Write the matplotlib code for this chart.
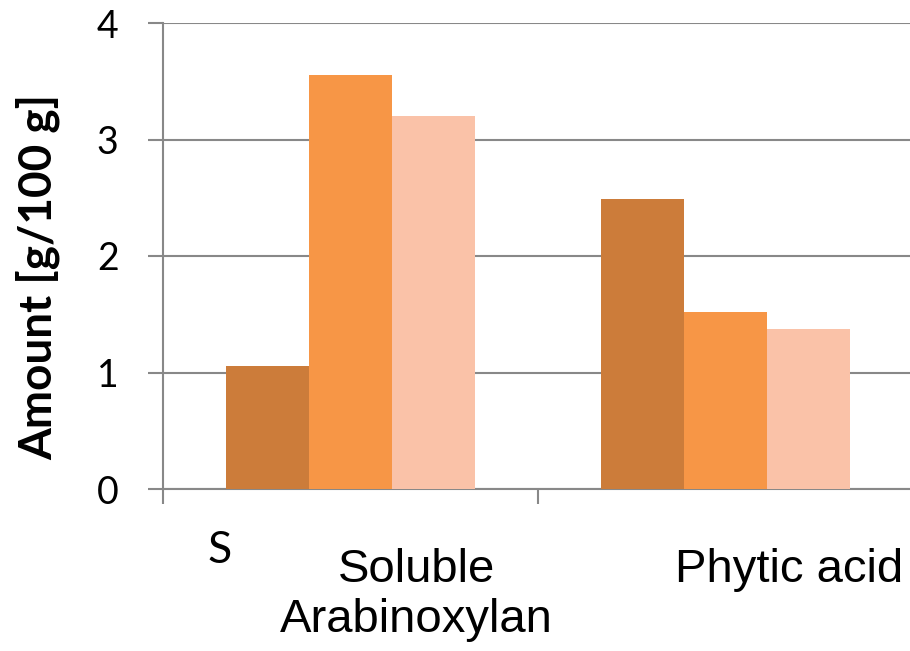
import numpy as np
import matplotlib.pyplot as plt

categories = ["Soluble\nArabinoxylan", "Phytic acid"]
series_a = [1.06, 2.49]
series_b = [3.55, 1.52]
series_c = [3.20, 1.37]
colors = ["#CC7C3A", "#F79646", "#FAC2A8"]
yticks = [0, 1, 2, 3, 4]

fig = plt.figure(figsize=(9.1, 6.51), dpi=100)
ax = fig.add_axes([163/910, 1-489/651, (910-163)/910, (489-23)/651])

x = np.arange(len(categories))
w = 0.222
for i, (vals, c) in enumerate(zip([series_a, series_b, series_c], colors)):
    ax.bar(x + (i-1)*w, vals, w, color=c, zorder=3)

ax.set_ylim(0, 4)
ax.set_xlim(-0.5, 1.5 - 3/375)
ax.set_yticks(yticks)
ax.set_yticklabels([str(t) for t in yticks], fontsize=27, family="Lato")
ax.yaxis.grid(True, color="#888888", linewidth=1.5, zorder=0)
ax.set_xticks([-0.5, 0.5])
ax.set_xticklabels([])
ax.tick_params(axis="y", length=11, width=1.5, color="#888888", pad=21)
ax.tick_params(axis="x", length=11, width=1.5, color="#888888")
for s in ["top", "right"]:
    ax.spines[s].set_visible(False)
for s in ["left", "bottom"]:
    ax.spines[s].set_color("#888888")
    ax.spines[s].set_linewidth(1.5)

ax.set_ylabel("Amount [g/100 g]", fontsize=33, fontweight="bold", family="Lato")
ax.yaxis.set_label_coords(-0.137, 0.455)

tr = ax.get_xaxis_transform()
ax.text(-0.348, -0.133, "S", transform=tr, ha="center", va="center", fontsize=32, family="Lato")
ax.text(x[0] + 0.175, -0.2275, categories[0], transform=tr, ha="center", va="center",
        fontsize=34, family="Liberation Sans", linespacing=1.2)
ax.text(x[1] + 0.169, -0.174, categories[1], transform=tr, ha="center", va="center",
        fontsize=34, family="Liberation Sans")

fig.savefig("out.png", dpi=100)
